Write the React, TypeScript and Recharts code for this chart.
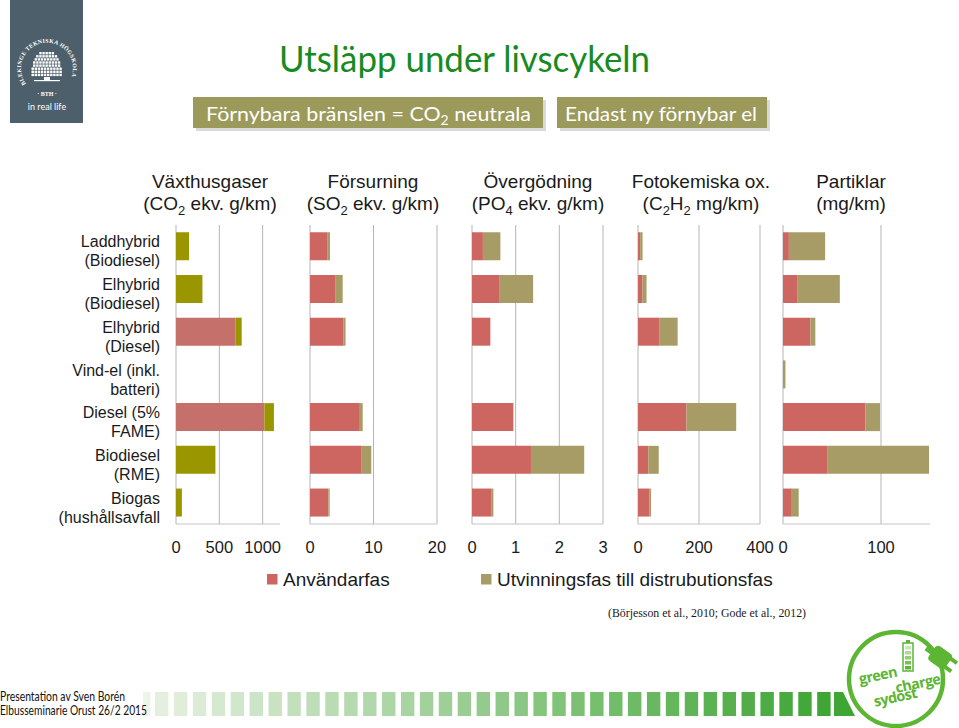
import React from 'react';
import { BarChart, Bar, XAxis, YAxis, CartesianGrid } from 'recharts';

// ---------- data ----------
const categories = [
  'Laddhybrid (Biodiesel)',
  'Elhybrid (Biodiesel)',
  'Elhybrid (Diesel)',
  'Vind-el (inkl. batteri)',
  'Diesel (5% FAME)',
  'Biodiesel (RME)',
  'Biogas (hushållsavfall',
];
const categoryLines = [
  ['Laddhybrid', '(Biodiesel)'],
  ['Elhybrid', '(Biodiesel)'],
  ['Elhybrid', '(Diesel)'],
  ['Vind-el (inkl.', 'batteri)'],
  ['Diesel (5%', 'FAME)'],
  ['Biodiesel', '(RME)'],
  ['Biogas', '(hushållsavfall'],
];

const phaseNames = ['Användarfas', 'Utvinningsfas till distrubutionsfas'];

const ghgUse = [0, 0, 685, 0, 1020, 0, 0];
const ghgProd = [150, 305, 73, 0, 110, 455, 68];
const ghgTicks = [0, 500, 1000];

const acidUse = [2.7, 4.05, 5.3, 0, 7.85, 8.15, 2.9];
const acidProd = [0.45, 1.1, 0.3, 0, 0.45, 1.5, 0.2];
const acidTicks = [0, 10, 20];

const eutUse = [0.25, 0.62, 0.42, 0, 0.94, 1.35, 0.45];
const eutProd = [0.4, 0.78, 0, 0, 0.01, 1.22, 0.04];
const eutTicks = [0, 1, 2, 3];

const photoUse = [7, 14, 71, 0, 159, 34, 37];
const photoProd = [8, 14, 59, 0, 163, 34, 6];
const photoTicks = [0, 200, 400];

const pmUse = [6, 15, 28, 0, 84, 45, 9];
const pmProd = [37, 43, 5, 2.5, 15, 104, 7];
const pmTicks = [0, 100];

const panelTitles = ['Växthusgaser', 'Försurning', 'Övergödning', 'Fotokemiska ox.', 'Partiklar'];
const panelUnits = ['(CO_2 ekv. g/km)', '(SO_2 ekv. g/km)', '(PO_4 ekv. g/km)', '(C_2H_2 mg/km)', '(mg/km)'];

// ---------- styling ----------
const FONT = '"Liberation Sans", Arial, sans-serif';
const RED = '#cd6660';
const TAN = '#a89c66';
const RED1 = '#c5706a';
const OLIVE1 = '#9a9600';
const GRID = '#b5b5b5';

const PLOT_TOP = 225;
const PLOT_H = 299;
const AXIS_H = 40;
const PAD_L = 15;
const PAD_R = 22;

function CategoryTick(props: any) {
  const { x, y, payload } = props;
  const idx = categories.indexOf(payload.value);
  const lines = idx >= 0 ? categoryLines[idx] : [String(payload.value)];
  return (
    <text x={x} y={y} textAnchor="end" fontFamily={FONT} fontSize={16} fill="#1a1a1a">
      {lines.map((l, i) => (
        <tspan key={i} x={x} y={y + 1 + i * 19}>
          {l}
        </tspan>
      ))}
    </text>
  );
}

type PanelProps = {
  use: number[];
  prod: number[];
  domain: [number, number];
  ticks: number[];
  left: number;
  right: number;
  useColor: string;
  prodColor: string;
  withCategories?: boolean;
};

function Panel({ use, prod, domain, ticks, left, right, useColor, prodColor, withCategories }: PanelProps) {
  const data = categories.map((name, i) => ({ name, use: use[i], prod: prod[i] }));
  const plotW = right - left;
  const chartLeft = withCategories ? 0 : left - PAD_L;
  const width = (withCategories ? left : PAD_L) + plotW + PAD_R;
  const gridGen = (args: any) => {
    const sc = args?.xAxis?.scale;
    if (typeof sc === 'function') return ticks.map((t) => sc(t));
    const off = args.offset;
    return ticks.map((t) => off.left + ((t - domain[0]) / (domain[1] - domain[0])) * off.width);
  };
  return (
    <div style={{ position: 'absolute', left: chartLeft, top: PLOT_TOP }}>
      <BarChart
        width={width}
        height={PLOT_H + AXIS_H}
        data={data}
        layout="vertical"
        margin={{ top: 0, right: PAD_R, bottom: 0, left: withCategories ? 0 : PAD_L }}
        barCategoryGap="17%"
      >
        <CartesianGrid horizontal={false} stroke={GRID} verticalCoordinatesGenerator={gridGen} />
        <XAxis
          type="number"
          domain={domain}
          ticks={ticks}
          interval={0}
          allowDataOverflow
          axisLine={{ stroke: '#c4c4c4' }}
          tickLine={false}
          tickMargin={11}
          height={AXIS_H}
          tick={{ fill: '#1a1a1a', fontSize: 16.5, fontFamily: FONT }}
        />
        {withCategories ? (
          <YAxis
            type="category"
            dataKey="name"
            width={left}
            axisLine={false}
            tickLine={false}
            tickMargin={10}
            interval={0}
            tick={<CategoryTick />}
          />
        ) : (
          <YAxis type="category" dataKey="name" hide />
        )}
        <Bar dataKey="use" name={phaseNames[0]} stackId="s" fill={useColor} isAnimationActive={false} />
        <Bar dataKey="prod" name={phaseNames[1]} stackId="s" fill={prodColor} isAnimationActive={false} />
      </BarChart>
    </div>
  );
}

function SubText({ s, x, y }: { s: string; x: number; y: number }) {
  const parts = s.split(/_(\d)/);
  const out: any[] = [];
  let down = false;
  parts.forEach((p, i) => {
    if (i % 2 === 1) {
      out.push(
        <tspan key={i} dy={5} fontSize={13}>
          {p}
        </tspan>
      );
      down = true;
    } else if (p) {
      out.push(
        <tspan key={i} dy={down ? -5 : 0}>
          {p}
        </tspan>
      );
      down = false;
    }
  });
  return (
    <text x={x} y={y} textAnchor="middle" fontFamily={FONT} fontSize={19} fill="#1a1a1a">
      {out}
    </text>
  );
}

function mix(a: string, b: string, t: number) {
  const pa = [1, 3, 5].map((i) => parseInt(a.slice(i, i + 2), 16));
  const pb = [1, 3, 5].map((i) => parseInt(b.slice(i, i + 2), 16));
  const c = pa.map((v, i) => Math.round(v + (pb[i] - v) * t));
  return `rgb(${c[0]},${c[1]},${c[2]})`;
}

function BthLogo() {
  const squares: any[] = [];
  for (let r = 0; r < 8; r++) {
    const yy = 52 + r * 3.1;
    const dyc = (8 - r) / 8;
    const half = 17 * Math.sqrt(Math.max(0, 1 - dyc * dyc * 0.75));
    const n = Math.floor((half * 2) / 3.1);
    const x0 = 47 - (n * 3.1) / 2;
    for (let c = 0; c < n; c++) {
      squares.push(<rect key={`${r}-${c}`} x={x0 + c * 3.1} y={yy} width={2.4} height={2.4} fill="#fff" />);
    }
  }
  return (
    <g>
      <rect x={10} y={0} width={73} height={123} fill="#4c5f6b" />
      <defs>
        <path id="bthArc" d="M 26 84 A 26 26 0 1 1 68 84" />
      </defs>
      <text fontFamily="Liberation Serif" fontWeight="bold" fontSize={5.8} fill="#fff" letterSpacing={0.3}>
        <textPath href="#bthArc">BLEKINGE TEKNISKA HÖGSKOLA</textPath>
      </text>
      {squares}
      <rect x={44} y={77} width={6} height={3} fill="#fff" />
      <rect x={34} y={80} width={26} height={1.2} fill="#fff" />
      <text x={47} y={96} textAnchor="middle" fontFamily="Liberation Serif" fontWeight="bold" fontSize={6} fill="#fff">
        · BTH ·
      </text>
      <text x={47} y={110} textAnchor="middle" fontFamily="Lato" fontSize={9} fill="#fff">
        in real life
      </text>
    </g>
  );
}

function GreenChargeLogo() {
  const G = '#5cb533';
  return (
    <g>
      <circle cx={896} cy={679} r={47} fill="#fff" stroke={G} strokeWidth={4.5} />
      <g transform="translate(941 658) rotate(35)">
        <rect x={-11} y={-9} width={20} height={18} rx={4} fill={G} />
        <rect x={7} y={-7} width={9} height={4} fill={G} />
        <rect x={7} y={3} width={9} height={4} fill={G} />
        <rect x={-18} y={-3} width={8} height={6} fill={G} />
      </g>
      <rect x={903} y={643} width={10} height={28} fill="#fff" stroke={G} strokeWidth={1.5} />
      <rect x={906} y={640} width={4} height={3} fill={G} />
      {[0, 1, 2, 3, 4].map((i) => (
        <rect key={i} x={905} y={646 + i * 5} width={6} height={3.5} fill={mix('#c9e6b8', G, i / 4)} />
      ))}
      <g transform="rotate(-12 896 690)" fontFamily='"Open Sans", sans-serif' fontWeight="bold" fill={G}>
        <text x={862} y={677} fontSize={14.5} letterSpacing={-0.6}>
          green
        </text>
        <text x={896} y={693} fontSize={14.5} letterSpacing={-0.6}>
          charge
        </text>
        <text x={872} y={702} fontSize={14.5} letterSpacing={-0.6}>
          sydost
        </text>
      </g>
    </g>
  );
}

function Decorations() {
  const stripes: any[] = [];
  const n = 36;
  stripes.push(<rect key="first" x={143} y={692} width={7.5} height={24} fill="#eef4ea" />);
  for (let i = 0; i < n; i++) {
    stripes.push(
      <rect key={i} x={155 + i * 18.92} y={692} width={13.4} height={24} fill={mix('#e4efdf', '#3fa535', i / (n - 1))} />
    );
  }
  const titleX = [210, 373, 538, 701, 851];
  return (
    <svg width={959} height={728} style={{ position: 'absolute', left: 0, top: 0 }}>
      <BthLogo />
      <text x={279} y={72} fontFamily="Lato" fontSize={36} fill="#178a22" textLength={371} lengthAdjust="spacingAndGlyphs">
        Utsläpp under livscykeln
      </text>
      <rect x={196} y={100} width={350} height={31} fill="#000" opacity={0.15} />
      <rect x={193} y={97} width={350} height={31} fill="#9c9a5b" />
      <text x={206} y={121} fontFamily="Lato" fontSize={20} fill="#fff" textLength={325} lengthAdjust="spacingAndGlyphs">
        Förnybara bränslen = CO
        <tspan dy={4} fontSize={13}>
          2
        </tspan>
        <tspan dy={-4}> neutrala</tspan>
      </text>
      <rect x={560} y={100} width={210} height={31} fill="#000" opacity={0.15} />
      <rect x={557} y={97} width={210} height={31} fill="#9c9a5b" />
      <text x={565} y={121} fontFamily="Lato" fontSize={20} fill="#fff" textLength={192} lengthAdjust="spacingAndGlyphs">
        Endast ny förnybar el
      </text>
      {panelTitles.map((t, i) => (
        <g key={t}>
          <text x={titleX[i]} y={188} textAnchor="middle" fontFamily={FONT} fontSize={19} fill="#1a1a1a">
            {t}
          </text>
          <SubText s={panelUnits[i]} x={titleX[i]} y={210} />
        </g>
      ))}
      <rect x={267} y={574} width={10.5} height={10.5} fill={RED} />
      <text x={283} y={586} fontFamily={FONT} fontSize={19} fill="#1a1a1a">
        {phaseNames[0]}
      </text>
      <rect x={481} y={574} width={10.5} height={10.5} fill={TAN} />
      <text x={497} y={586} fontFamily={FONT} fontSize={19} fill="#1a1a1a">
        {phaseNames[1]}
      </text>
      <text x={608} y={617} fontFamily='"Liberation Serif", serif' fontSize={12.5} fill="#1a1a1a" textLength={198} lengthAdjust="spacingAndGlyphs">
        (Börjesson et al., 2010; Gode et al., 2012)
      </text>
      {stripes}
      <polygon points="834,692 843,692 855,716 834,716" fill="#3fa535" />
      <text x={0} y={701} fontFamily="Lato" fontSize={12.5} fill="#111" textLength={125} lengthAdjust="spacingAndGlyphs">
        Presentation av Sven Borén
      </text>
      <text x={0} y={715} fontFamily="Lato" fontSize={12.5} fill="#111" textLength={147} lengthAdjust="spacingAndGlyphs">
        Elbusseminarie Orust 26/2 2015
      </text>
      <GreenChargeLogo />
    </svg>
  );
}

export default function App() {
  return (
    <div style={{ position: 'absolute', left: 0, top: 0, width: 959, height: 728, background: '#fff', overflow: 'hidden' }}>
      <Decorations />
      <Panel use={ghgUse} prod={ghgProd} domain={[0, 1200]} ticks={ghgTicks} left={176} right={280} useColor={RED1} prodColor={OLIVE1} withCategories />
      <Panel use={acidUse} prod={acidProd} domain={[0, 20]} ticks={acidTicks} left={310} right={437} useColor={RED} prodColor={TAN} />
      <Panel use={eutUse} prod={eutProd} domain={[0, 3]} ticks={eutTicks} left={472} right={603} useColor={RED} prodColor={TAN} />
      <Panel use={photoUse} prod={photoProd} domain={[0, 400]} ticks={photoTicks} left={638} right={760} useColor={RED} prodColor={TAN} />
      <Panel use={pmUse} prod={pmProd} domain={[0, 150]} ticks={pmTicks} left={783} right={930} useColor={RED} prodColor={TAN} />
    </div>
  );
}
